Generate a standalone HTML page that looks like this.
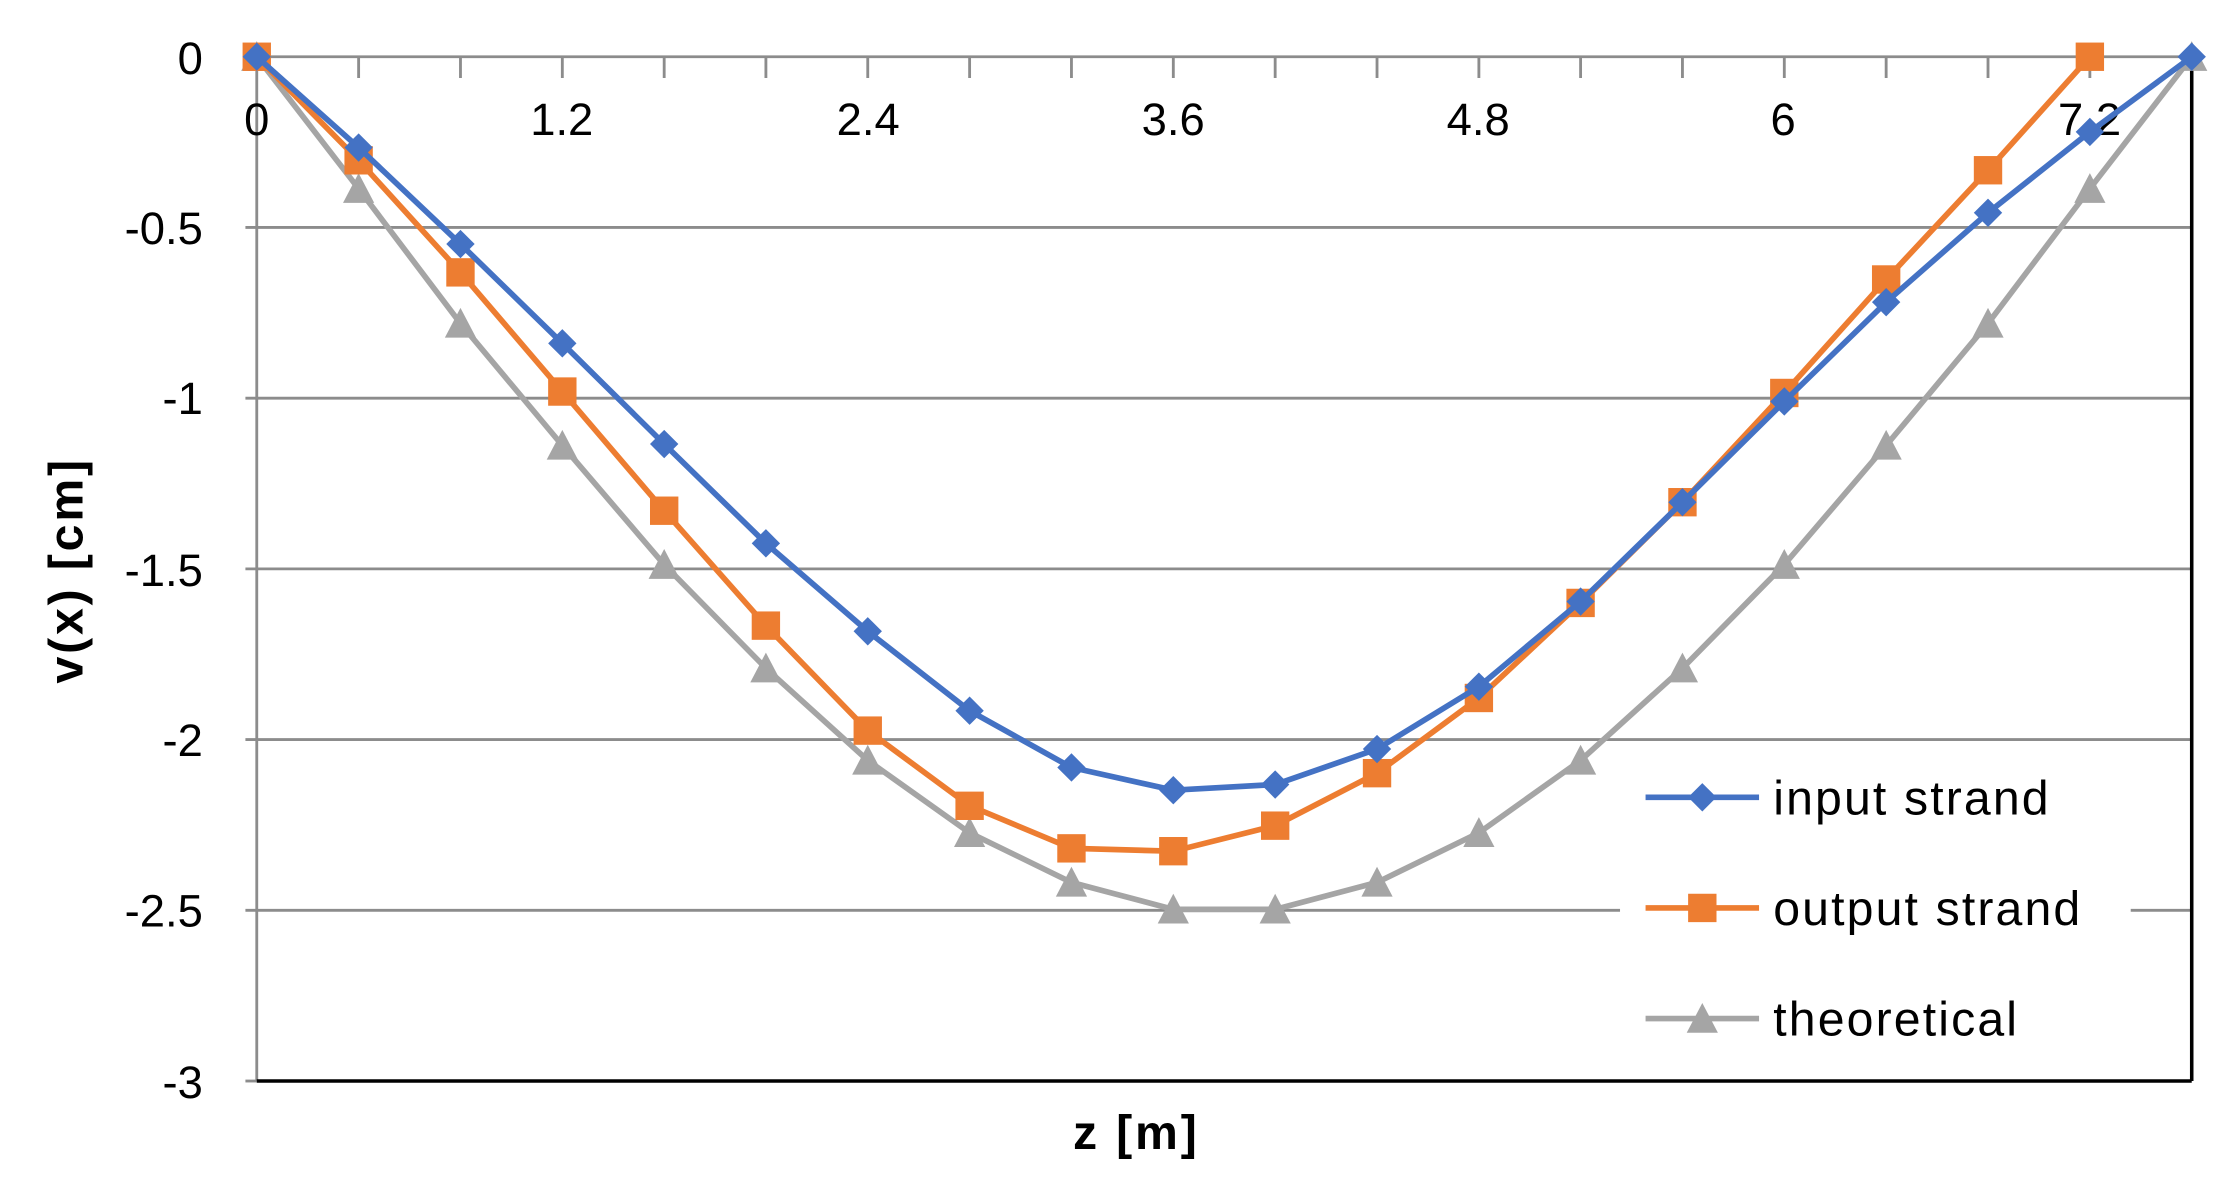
<!DOCTYPE html>
<html><head><meta charset="utf-8"><style>html,body{margin:0;padding:0;background:#fff}svg{display:block}</style></head>
<body>
<svg width="2213" height="1186" viewBox="0 0 1560 836" preserveAspectRatio="none" xmlns="http://www.w3.org/2000/svg" xmlns:xlink="http://www.w3.org/1999/xlink" font-family="'Liberation Sans', sans-serif">
<defs>
<polygon id="d" points="0,-10 10,0 0,10 -10,0" fill="#4472c4"/>
<rect id="s" x="-10" y="-10" width="20" height="20" fill="#ed7d31"/>
<polygon id="t" points="0,-11 -11,10 11,10" fill="#a5a5a5"/>
</defs>
<rect width="1560" height="836" fill="#fff"/>
<g stroke="#8c8c8c" stroke-width="2">
<line x1="173" y1="40" x2="1545" y2="40"/>
<line x1="173" y1="160.3" x2="1545" y2="160.3"/>
<line x1="173" y1="280.7" x2="1545" y2="280.7"/>
<line x1="173" y1="401" x2="1545" y2="401"/>
<line x1="173" y1="521.3" x2="1545" y2="521.3"/>
<line x1="173" y1="641.7" x2="1545" y2="641.7"/>
<line x1="173" y1="762" x2="181" y2="762"/>
<line x1="181" y1="40" x2="181" y2="762"/>
<path d="M252.8 40v15M324.6 40v15M396.4 40v15M468.2 40v15M539.9 40v15M611.7 40v15M683.5 40v15M755.3 40v15M827.1 40v15M898.9 40v15M970.7 40v15M1042.5 40v15M1114.2 40v15M1186 40v15M1257.8 40v15M1329.6 40v15M1401.4 40v15M1473.2 40v15"/>
</g>
<line x1="181" y1="762" x2="1545" y2="762" stroke="#000" stroke-width="2.5"/>
<line x1="1545" y1="45" x2="1545" y2="762" stroke="#000" stroke-width="2.5"/>
<g font-size="32" fill="#000" text-anchor="end">
<text x="143" y="52">0</text><text x="143" y="172">-0.5</text><text x="143" y="292">-1</text>
<text x="143" y="413">-1.5</text><text x="143" y="533">-2</text><text x="143" y="653">-2.5</text><text x="143" y="774">-3</text>
</g>
<g font-size="32" fill="#000" text-anchor="middle">
<text x="181" y="95">0</text><text x="396" y="95">1.2</text><text x="612" y="95">2.4</text><text x="827" y="95">3.6</text>
<text x="1042" y="95">4.8</text><text x="1257" y="95">6</text><text x="1473" y="95">7.2</text>
</g>
<text x="801" y="810" font-size="34" font-weight="bold" text-anchor="middle" letter-spacing="2">z [m]</text>
<text transform="translate(58,402) rotate(-90)" font-size="34" font-weight="bold" text-anchor="middle" letter-spacing="2">v(x) [cm]</text>
<rect x="1142" y="530" width="360" height="220" fill="#fff"/>

<polyline fill="none" stroke="#a5a5a5" stroke-width="4" points="181,40 252.8,133 324.6,228 396.4,314 468.2,398 539.9,471 611.7,536 683.5,587 755.3,622 827.1,641 898.9,641 970.7,622 1042.5,587 1114.2,536 1186,471 1257.8,398 1329.6,314 1401.4,228 1473.2,133 1545,40"/>
<g>
<use xlink:href="#t" x="181" y="40"/><use xlink:href="#t" x="252.8" y="133"/><use xlink:href="#t" x="324.6" y="228"/><use xlink:href="#t" x="396.4" y="314"/><use xlink:href="#t" x="468.2" y="398"/><use xlink:href="#t" x="539.9" y="471"/><use xlink:href="#t" x="611.7" y="536"/><use xlink:href="#t" x="683.5" y="587"/><use xlink:href="#t" x="755.3" y="622"/><use xlink:href="#t" x="827.1" y="641"/><use xlink:href="#t" x="898.9" y="641"/><use xlink:href="#t" x="970.7" y="622"/><use xlink:href="#t" x="1042.5" y="587"/><use xlink:href="#t" x="1114.2" y="536"/><use xlink:href="#t" x="1186" y="471"/><use xlink:href="#t" x="1257.8" y="398"/><use xlink:href="#t" x="1329.6" y="314"/><use xlink:href="#t" x="1401.4" y="228"/><use xlink:href="#t" x="1473.2" y="133"/><use xlink:href="#t" x="1545" y="40"/>
</g>

<polyline fill="none" stroke="#ed7d31" stroke-width="4" points="181,40 252.8,113 324.6,192 396.4,276 468.2,360 539.9,441 611.7,515 683.5,568 755.3,598 827.1,600 898.9,582 970.7,545 1042.5,492 1114.2,425 1186,354 1257.8,277 1329.6,197 1401.4,120 1473.2,40"/>
<g>
<use xlink:href="#s" x="181" y="40"/><use xlink:href="#s" x="252.8" y="113"/><use xlink:href="#s" x="324.6" y="192"/><use xlink:href="#s" x="396.4" y="276"/><use xlink:href="#s" x="468.2" y="360"/><use xlink:href="#s" x="539.9" y="441"/><use xlink:href="#s" x="611.7" y="515"/><use xlink:href="#s" x="683.5" y="568"/><use xlink:href="#s" x="755.3" y="598"/><use xlink:href="#s" x="827.1" y="600"/><use xlink:href="#s" x="898.9" y="582"/><use xlink:href="#s" x="970.7" y="545"/><use xlink:href="#s" x="1042.5" y="492"/><use xlink:href="#s" x="1114.2" y="425"/><use xlink:href="#s" x="1186" y="354"/><use xlink:href="#s" x="1257.8" y="277"/><use xlink:href="#s" x="1329.6" y="197"/><use xlink:href="#s" x="1401.4" y="120"/><use xlink:href="#s" x="1473.2" y="40"/>
</g>

<polyline fill="none" stroke="#4472c4" stroke-width="4" points="181,40 252.8,104 324.6,172 396.4,242 468.2,313 539.9,383 611.7,445 683.5,501 755.3,541 827.1,557 898.9,553 970.7,528 1042.5,484 1114.2,424 1186,354 1257.8,283 1329.6,213 1401.4,150 1473.2,93 1545,40"/>
<g>
<use xlink:href="#d" x="181" y="40"/><use xlink:href="#d" x="252.8" y="104"/><use xlink:href="#d" x="324.6" y="172"/><use xlink:href="#d" x="396.4" y="242"/><use xlink:href="#d" x="468.2" y="313"/><use xlink:href="#d" x="539.9" y="383"/><use xlink:href="#d" x="611.7" y="445"/><use xlink:href="#d" x="683.5" y="501"/><use xlink:href="#d" x="755.3" y="541"/><use xlink:href="#d" x="827.1" y="557"/><use xlink:href="#d" x="898.9" y="553"/><use xlink:href="#d" x="970.7" y="528"/><use xlink:href="#d" x="1042.5" y="484"/><use xlink:href="#d" x="1114.2" y="424"/><use xlink:href="#d" x="1186" y="354"/><use xlink:href="#d" x="1257.8" y="283"/><use xlink:href="#d" x="1329.6" y="213"/><use xlink:href="#d" x="1401.4" y="150"/><use xlink:href="#d" x="1473.2" y="93"/><use xlink:href="#d" x="1545" y="40"/>
</g>

<line x1="1160" y1="562" x2="1240" y2="562" stroke="#4472c4" stroke-width="4"/><use xlink:href="#d" x="1200" y="562"/>
<line x1="1160" y1="640" x2="1240" y2="640" stroke="#ed7d31" stroke-width="4"/><use xlink:href="#s" x="1200" y="640"/>
<line x1="1160" y1="718" x2="1240" y2="718" stroke="#a5a5a5" stroke-width="4"/><use xlink:href="#t" x="1200" y="718"/>
<g font-size="34" fill="#000" letter-spacing="1.5">
<text x="1250" y="574">input strand</text>
<text x="1250" y="652">output strand</text>
<text x="1250" y="730">theoretical</text>
</g>
</svg>
</body></html>
